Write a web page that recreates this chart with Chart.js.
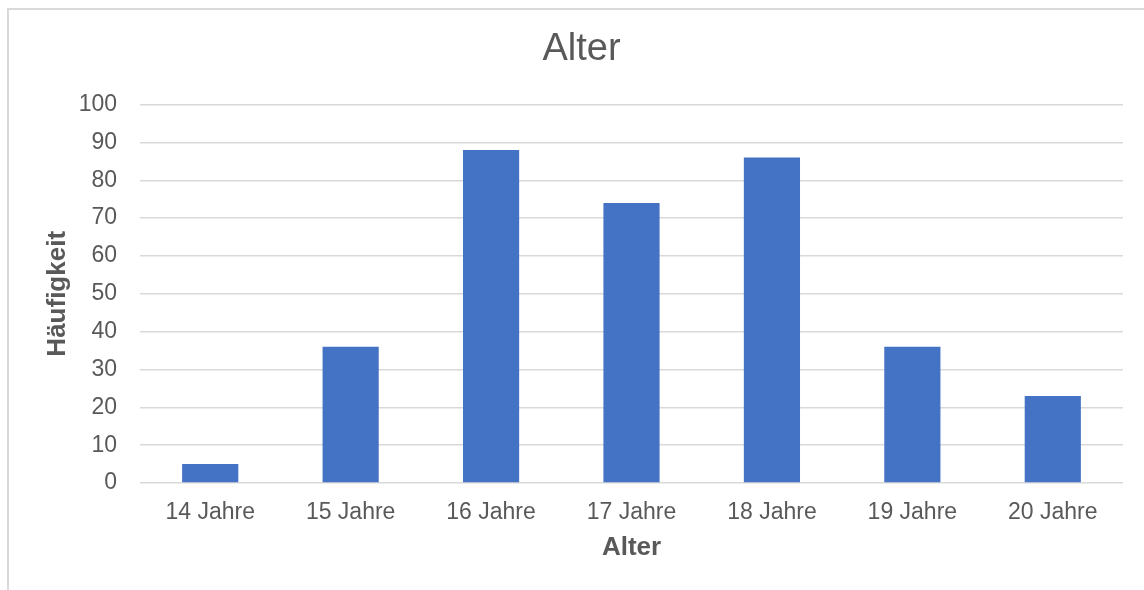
<!DOCTYPE html>
<html>
<head>
<meta charset="utf-8">
<script src="https://cdn.jsdelivr.net/npm/chart.js@4"></script>
<style>
    body { margin: 0; background: #fff; }
    #frame {
        position: absolute; left: 7px; top: 8px; width: 1200px; height: 700px;
        border-left: 2px solid #d9d9d9; border-top: 2px solid #d9d9d9;
    }
    #alter { position: absolute; left: 0; top: 0; }
</style>
</head>
<body>
<div id="frame"></div>
<canvas id="alter" width="1144" height="590"></canvas>
<script>
// Altersverteilung
var categories = ["14 Jahre", "15 Jahre", "16 Jahre", "17 Jahre", "18 Jahre", "19 Jahre", "20 Jahre"];
var counts = [5, 36, 88, 74, 86, 36, 23];
var yTicks = [0, 10, 20, 30, 40, 50, 60, 70, 80, 90, 100];

var grey = "#595959";
var fontFamily = "'Liberation Sans', Arial, sans-serif";

var config = {
    type: 'bar',
    data: {
        labels: categories,
        datasets: [
            {
                label: "Häufigkeit",
                data: counts,
                backgroundColor: "#4472c4",
                categoryPercentage: 1.0,
                barPercentage: 0.4
            }
        ]
    },
    options: {
        responsive: false,
        animation: false,
        layout: {
            padding: { left: 40, right: 21, top: 10, bottom: 25 }
        },
        plugins: {
            legend: { display: false },
            tooltip: { enabled: false },
            title: {
                display: true,
                text: "Alter",
                color: grey,
                font: { family: fontFamily, size: 38, weight: 'normal' },
                padding: { top: 17, bottom: 32 }
            }
        },
        scales: {
            y: {
                min: 0,
                max: 100,
                afterFit: function(scale) { scale.width = 100; },
                afterBuildTicks: function(scale) {
                    scale.ticks = yTicks.map(function(v) { return { value: v }; });
                },
                ticks: {
                    color: grey,
                    padding: 23,
                    font: { family: fontFamily, size: 23 }
                },
                grid: { color: "#d9d9d9", lineWidth: 1.5, drawTicks: false },
                border: { display: false },
                title: {
                    display: true,
                    text: "Häufigkeit",
                    color: grey,
                    font: { family: fontFamily, size: 26, weight: 'bold' },
                    padding: { top: 2, bottom: 0 }
                }
            },
            x: {
                afterFit: function(scale) { scale.height = 82; },
                ticks: {
                    color: grey,
                    padding: 8,
                    font: { family: fontFamily, size: 23 }
                },
                grid: { display: false },
                border: { display: false },
                title: {
                    display: true,
                    text: "Alter",
                    color: grey,
                    font: { family: fontFamily, size: 26, weight: 'bold' },
                    padding: { top: 0, bottom: 2 }
                }
            }
        }
    }
};

var ctx = document.getElementById("alter").getContext("2d");
var alterChart = new Chart(ctx, config);
</script>
</body>
</html>
